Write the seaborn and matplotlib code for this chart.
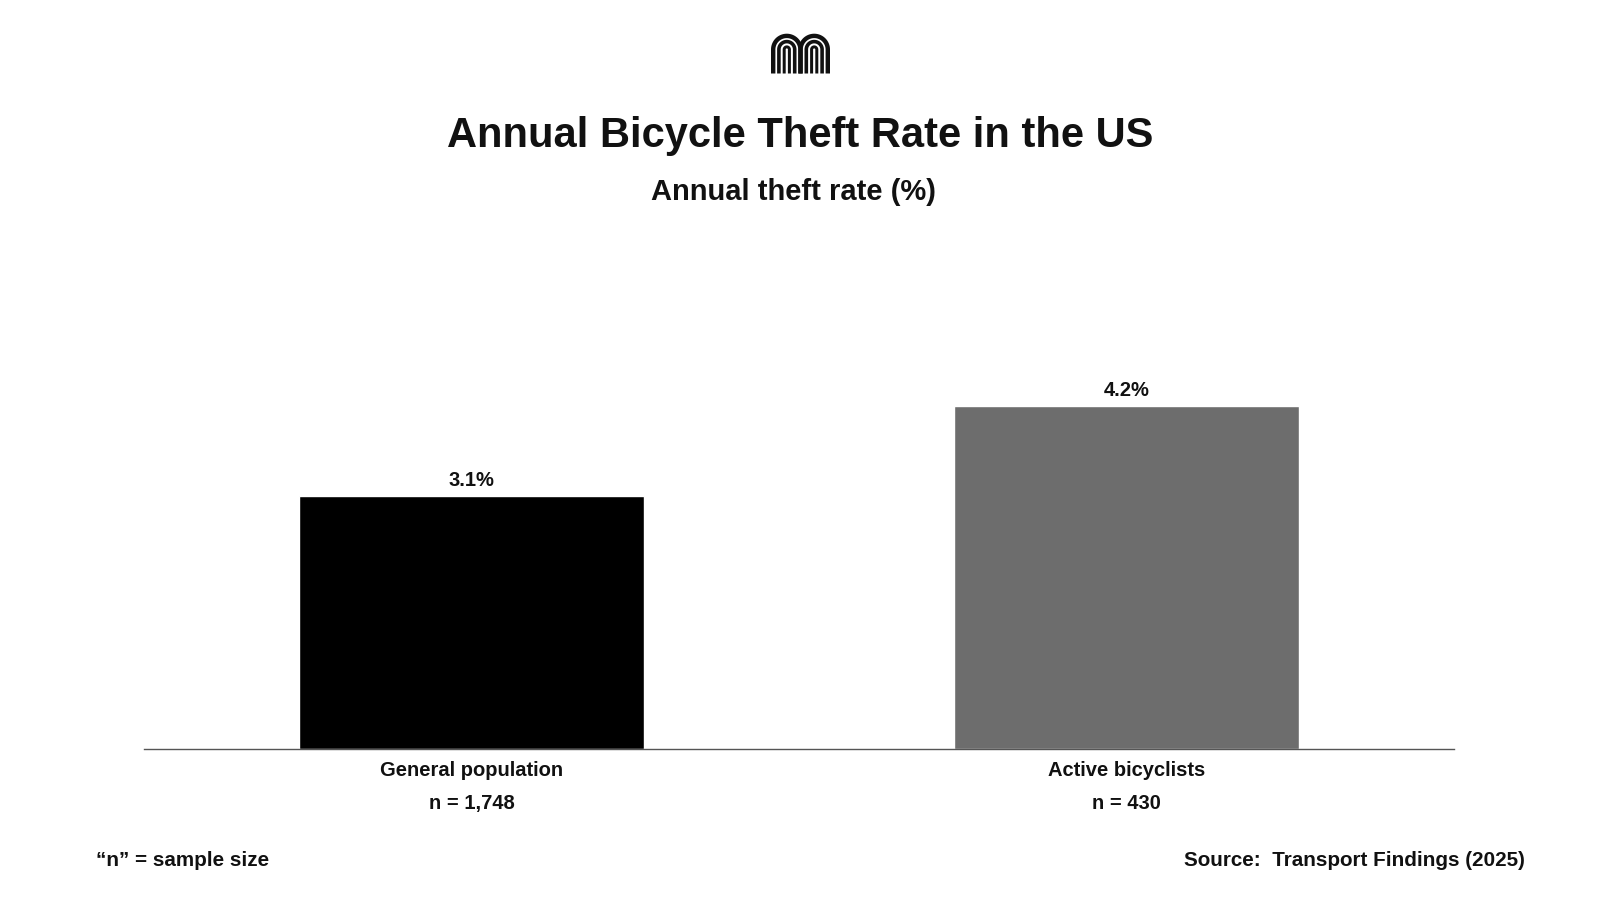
import numpy as np
import pandas as pd
import matplotlib
matplotlib.use("Agg")
import matplotlib.pyplot as plt
import seaborn as sns

categories = ["General population", "Active bicyclists"]
sample_sizes = ["n = 1,748", "n = 430"]
theft_rates = [3.1, 4.2]
bar_colors = ["#000000", "#6d6d6d"]

sns.set_theme(style="white")
plt.rcParams["font.family"] = ["Liberation Sans", "DejaVu Sans"]

fig = plt.figure(figsize=(16, 9), dpi=100)
# layout coordinates measured on a 1568x882 view of the canvas
W, H = 1568, 882

def fx(px):
    return px / W

def fy(py):
    return 1 - py / H

TXT = "#111111"

ax = fig.add_axes([fx(141), fy(734), fx(1425) - fx(141), (734 - 254) / H])
df = pd.DataFrame({"cat": categories, "rate": theft_rates})
sns.barplot(data=df, x="cat", y="rate", hue="cat", palette=bar_colors,
            width=0.527, ax=ax, legend=False, saturation=1)
ax.set_xlim(-0.5, 1.5)
ax.set_ylim(0, 6)
for s in ["top", "right", "left"]:
    ax.spines[s].set_visible(False)
ax.spines["bottom"].set_color("#555555")
ax.spines["bottom"].set_linewidth(1.0)
ax.set_yticks([])
ax.set_xlabel("")
ax.set_ylabel("")
ax.set_xticks(range(len(categories)))
ax.set_xticklabels([])
ax.tick_params(axis="x", length=0)
pt = 72 / 100 / 0.98  # display px -> points
for i, (c, n) in enumerate(zip(categories, sample_sizes)):
    ax.annotate(c, (i, 0), xycoords=("data", "axes fraction"),
                xytext=(0, -21 * pt), textcoords="offset points",
                ha="center", va="center", fontsize=14.5, fontweight="bold", color=TXT)
    ax.annotate(n, (i, 0), xycoords=("data", "axes fraction"),
                xytext=(0, -53 * pt), textcoords="offset points",
                ha="center", va="center", fontsize=14.5, fontweight="bold", color=TXT)
for i, v in enumerate(theft_rates):
    ax.annotate(f"{v:.1f}%", (i, v), xytext=(0, 15.5 * pt), textcoords="offset points",
                ha="center", va="center", fontsize=14.5, fontweight="bold", color=TXT)

fig.text(0.5, fy(133), "Annual Bicycle Theft Rate in the US", ha="center", va="center",
         fontsize=30, fontweight="bold", color=TXT)
fig.text(fx(778), fy(188), "Annual theft rate (%)", ha="center", va="center",
         fontsize=21, fontweight="bold", color=TXT)
fig.text(fx(94), fy(843), "\u201cn\u201d = sample size", ha="left", va="center",
         fontsize=14.9, fontweight="bold", color=TXT)
fig.text(fx(1494), fy(843), "Source:  Transport Findings (2025)", ha="right", va="center",
         fontsize=14.9, fontweight="bold", color=TXT)

# logo (actual 1600x900 pixel coordinates)
x0, x1, y0, y1 = 766, 836, 28, 78
lax = fig.add_axes([x0 / 1600, 1 - y1 / 900, (x1 - x0) / 1600, (y1 - y0) / 900])
lax.set_xlim(x0, x1)
lax.set_ylim(y1, y0)
lax.axis("off")
t = np.linspace(np.pi, 2 * np.pi, 80)
cy = 49.5
for cx in [786.8, 814.2]:
    for r, lw in [(13.6, 4.4), (7.9, 3.6), (2.6, 3.0)]:
        xs = np.concatenate([[cx - r], cx + r * np.cos(t), [cx + r]])
        ys = np.concatenate([[73.5], cy + r * np.sin(t), [73.5]])
        lax.plot(xs, ys, color=TXT, lw=lw * 0.72, solid_capstyle="butt")

fig.savefig("out.png", dpi=100, facecolor="white")
